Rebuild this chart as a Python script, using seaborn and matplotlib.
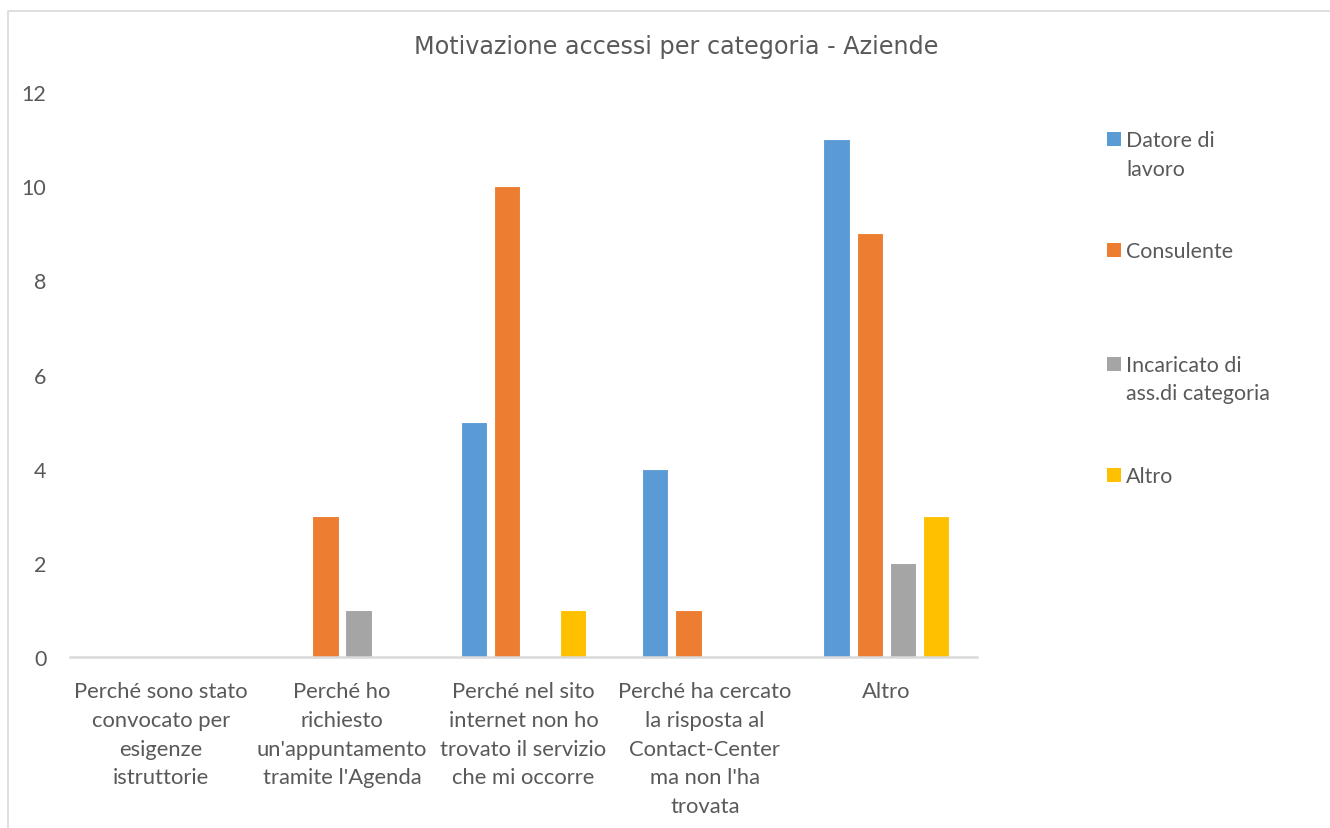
import matplotlib
matplotlib.use("Agg")
import matplotlib.pyplot as plt
from matplotlib.patches import Rectangle
import pandas as pd
import seaborn as sns

categories = [
    "Perché sono stato\nconvocato per\nesigenze\nistruttorie",
    "Perché ho\nrichiesto\nun'appuntamento\ntramite l'Agenda",
    "Perché nel sito\ninternet non ho\ntrovato il servizio\nche mi occorre",
    "Perché ha cercato\nla risposta al\nContact-Center\nma non l'ha\ntrovata",
    "Altro",
]
series_names = ["Datore di\nlavoro", "Consulente", "Incaricato di\nass.di categoria", "Altro"]
datore = [0, 0, 5, 4, 11]
consulente = [0, 3, 10, 1, 9]
incaricato = [0, 1, 0, 0, 2]
altro = [0, 0, 1, 0, 3]
y_ticks = [0, 2, 4, 6, 8, 10, 12]

colors = ["#5B9BD5", "#ED7D31", "#A5A5A5", "#FFC000"]
text_color = "#595959"
line_color = "#D9D9D9"

rows = []
for name, vals in zip(series_names, [datore, consulente, incaricato, altro]):
    for cat, v in zip(categories, vals):
        rows.append({"categoria": cat, "valore": v, "serie": name})
df = pd.DataFrame(rows)

sns.set_theme(style="white")
plt.rcParams["font.family"] = ["Lato", "DejaVu Sans"]

fig = plt.figure(figsize=(13.3, 8.29), dpi=100)
ax = fig.add_axes([70 / 1330, 1 - 658 / 829, (977 - 70) / 1330, (658 - 93) / 829])

sns.barplot(
    data=df, x="categoria", y="valore", hue="serie",
    order=categories, hue_order=series_names, palette=colors, saturation=1,
    width=0.73, gap=0.2, edgecolor="white", linewidth=0.8,
    legend=False, ax=ax,
)

ax.set_xlim(-0.5, len(categories) - 0.5)
ax.set_ylim(0, 12)
ax.set_yticks(y_ticks)
ax.set_yticklabels([str(t) for t in y_ticks])
ax.set_xlabel("")
ax.set_ylabel("")
for s in ["top", "right", "left"]:
    ax.spines[s].set_visible(False)
ax.spines["bottom"].set_color(line_color)
ax.spines["bottom"].set_linewidth(1.8)
ax.tick_params(axis="y", length=0, pad=17, labelsize=15.5, labelcolor=text_color)
ax.tick_params(axis="x", length=0, pad=17, labelsize=15.8, labelcolor=text_color)
for lbl in ax.get_xticklabels():
    lbl.set_linespacing(1.56)
    lbl.set_horizontalalignment("center")

fig.text(676 / 1330, 1 - 47 / 829, "Motivazione accessi per categoria - Aziende",
         ha="center", va="center", fontsize=17.2, color=text_color,
         family=["DejaVu Sans"])

# legend on the right: square marker + wrapped label, evenly spaced slots
legend_centers = [141, 252, 366, 477]
for name, col, yc in zip(series_names, colors, legend_centers):
    fig.patches.append(Rectangle((1107 / 1330, 1 - (yc + 6) / 829), 14 / 1330, 14 / 829,
                                 transform=fig.transFigure, facecolor=col, edgecolor="none"))
    first, *rest = name.split("\n")
    fig.text(1126 / 1330, 1 - yc / 829, first, ha="left", va="center",
             fontsize=15.4, color=text_color)
    for i, line in enumerate(rest, start=1):
        fig.text(1126 / 1330, 1 - (yc + 28.5 * i) / 829, line, ha="left", va="center",
                 fontsize=15.4, color=text_color)

# chart area frame
fig.patches.append(Rectangle((8 / 1330, -0.1), 1.2, 1 - 12 / 829 + 0.1,
                             transform=fig.transFigure, facecolor="none",
                             edgecolor=line_color, linewidth=1.2))

fig.savefig("out.png", dpi=100, facecolor="white")
